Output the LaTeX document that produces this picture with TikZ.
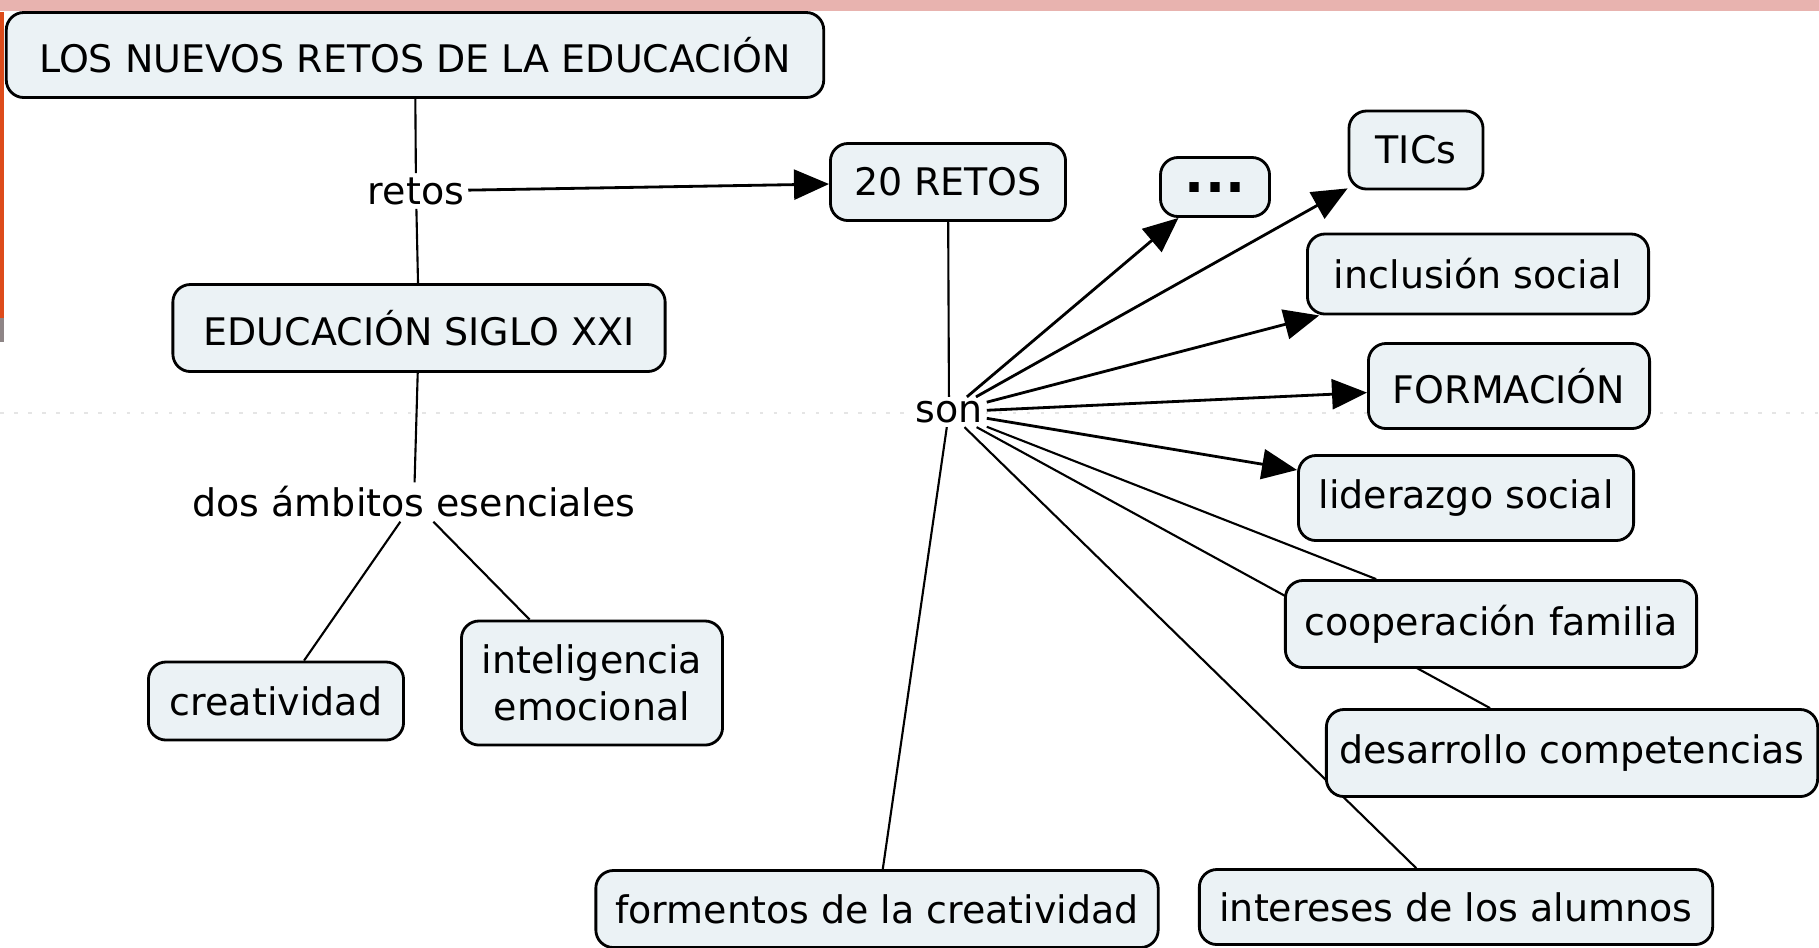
\documentclass[tikz,border=0pt]{standalone}
\usepackage{fontspec}
\setmainfont{DejaVu Sans}
\usetikzlibrary{arrows.meta,backgrounds}
\definecolor{cajafondo}{HTML}{EBF2F5}
\definecolor{barrarosa}{HTML}{E8B3AF}
\definecolor{barranaranja}{HTML}{DD4B1A}
\definecolor{barragris}{HTML}{8E8586}

\begin{document}
\begin{tikzpicture}[x=0.01cm,y=-0.01cm,
	concepto/.style={draw,line width=0.8pt,rounded corners=5pt,fill=cajafondo,inner sep=0pt,align=center,font=\fontsize{10.8}{13.5}\selectfont},
	enlace/.style={fill=white,inner sep=1pt,font=\fontsize{10.8}{13.5}\selectfont},
	linea/.style={line width=0.6pt},
	flecha/.style={line width=0.8pt,-{Triangle[length=0.35cm,width=0.3cm]}}]
	\useasboundingbox (0,0) rectangle (1819,947);
	\fill[barrarosa] (0,0) rectangle (1819,11);
	\fill[barranaranja] (0,12) rectangle (4,318);
	\fill[barragris] (0,318) rectangle (4,342);

	\node[concepto,minimum width=8.17cm,minimum height=0.85cm] (nuevos) at (415,55) {LOS NUEVOS RETOS DE LA EDUCACIÓN};
	\node[enlace] (retos) at (416,191) {retos};
	\node[concepto,minimum width=4.92cm,minimum height=0.87cm] (siglo) at (419,328) {EDUCACIÓN SIGLO XXI};
	\node[enlace] (ambitos) at (414,502) {dos ámbitos esenciales};
	\node[concepto,minimum width=2.55cm,minimum height=0.78cm] (creat) at (276,701) {creatividad};
	\node[concepto,minimum width=2.61cm,minimum height=1.24cm] (emoc) at (592,683) {inteligencia\\emocional};
	\node[concepto,minimum width=2.35cm,minimum height=0.77cm] (veinte) at (948,182) {20 RETOS};
	\node[enlace] (son) at (949,412) {son};
	\node[concepto,minimum width=1.09cm,minimum height=0.59cm] (puntos) at (1215,187) {\fontsize{15}{15}\selectfont\textbf{...}};
	\node[concepto,minimum width=1.34cm,minimum height=0.78cm] (tics) at (1416,150) {TICs};
	\node[concepto,minimum width=3.41cm,minimum height=0.80cm] (inclusion) at (1478,274) {inclusión social};
	\node[concepto,minimum width=2.81cm,minimum height=0.85cm] (formacion) at (1509,386) {FORMACIÓN};
	\node[concepto,minimum width=3.35cm,minimum height=0.85cm] (liderazgo) at (1466,498) {liderazgo social};
	\node[concepto,minimum width=4.11cm,minimum height=0.87cm] (familia) at (1491,624) {cooperación familia};
	\node[concepto,minimum width=4.91cm,minimum height=0.87cm] (competencias) at (1572,753) {desarrollo competencias};
	\node[concepto,minimum width=5.62cm,minimum height=0.77cm] (fomentos) at (877,909) {formentos de la creatividad};
	\node[concepto,minimum width=5.13cm,minimum height=0.75cm] (intereses) at (1456,907) {intereses de los alumnos};

	\begin{scope}[on background layer]
		\draw[black!10,line width=0.6pt,dash pattern=on 1pt off 3pt] (0,413) -- (1819,413);
		\draw[linea] (nuevos) -- (retos);
		\draw[linea] (retos) -- (siglo);
		\draw[flecha] (retos) -- (veinte);
		\draw[linea] (siglo) -- (ambitos);
		\draw[linea] (ambitos) -- (creat);
		\draw[linea] (ambitos) -- (emoc);
		\draw[linea] (veinte) -- (son);
		\foreach \destino in {puntos,tics,inclusion,formacion,liderazgo}
			\draw[flecha] (son) -- (\destino);
		\foreach \destino in {familia,competencias,intereses,fomentos}
			\draw[linea] (son) -- (\destino);
	\end{scope}
\end{tikzpicture}
\end{document}
